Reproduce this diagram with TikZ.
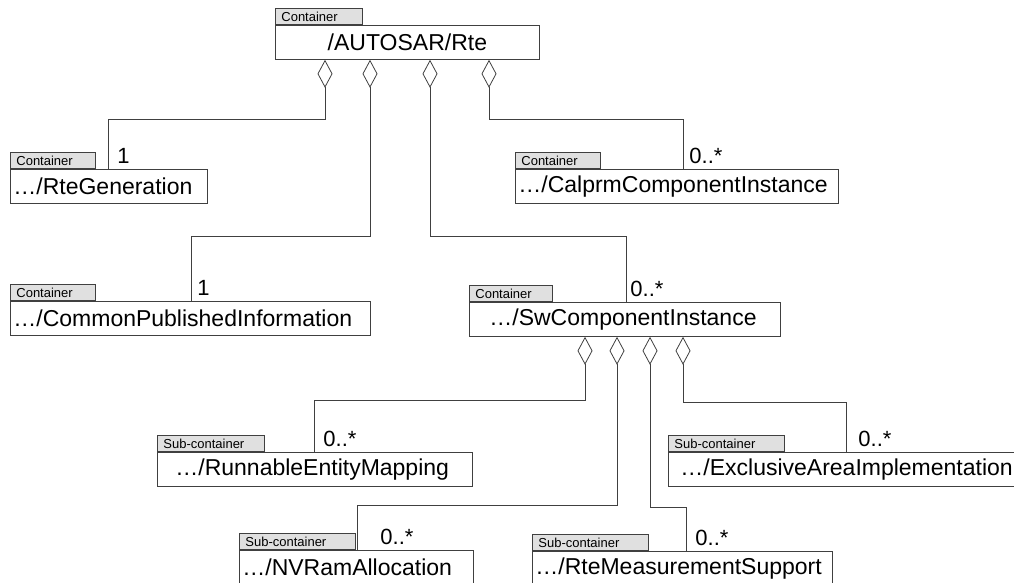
\documentclass[tikz,border=0pt]{standalone}
\usepackage{fontspec}
\setmainfont{Liberation Sans}
\usetikzlibrary{positioning}
\usetikzlibrary{arrows.meta}

\begin{document}
\begin{tikzpicture}
                [x=1pt, y=-1pt, line width=0.8pt,
                 box/.style={draw=black!75, fill=white, anchor=north west, minimum height=34pt,
                   inner xsep=3pt, inner ysep=0pt, text width=#1, align=left,
                   font=\fontsize{23}{27}\selectfont},
                 pad/.style={inner xsep=#1},
                 tab/.style={draw=black!75, fill=black!12, minimum height=16pt,
                   inner xsep=6pt, inner ysep=0pt, text width=#1, align=left,
                   font=\fontsize{13}{15}\selectfont},
                 agg/.style={draw=black!75, {Diamond[open, length=28pt, width=15pt]}-},
                 mult/.style={anchor=base west, inner sep=0pt, xshift=6pt, yshift=6pt,
                   font=\fontsize{22}{26}\selectfont}]
                \useasboundingbox (0,0) rectangle (1014,583);
                \node[box=252pt, pad=6pt, align=center] (rte) at (275,25) {/AUTOSAR/Rte};
                \node[tab=75pt, above right=0pt of rte.north west] (rtetab) {Container};
                \node[box=191pt] (gen) at (10,169) {\dots/RteGeneration};
                \node[tab=73pt, above right=0pt of gen.north west] (gentab) {Container};
                \node[box=317pt] (calprm) at (515,169) {\dots/CalprmComponentInstance};
                \node[tab=73pt, above right=0pt of calprm.north west] (calprmtab) {Container};
                \node[box=354pt] (common) at (10,301) {\dots/CommonPublishedInformation};
                \node[tab=73pt, above right=0pt of common.north west] (commontab) {Container};
                \node[box=271pt, pad=20pt] (swc) at (469,302) {\dots/SwComponentInstance};
                \node[tab=71pt, above right=0pt of swc.north west] (swctab) {Container};
                \node[box=279pt, pad=18pt] (runnable) at (157,452) {\dots/RunnableEntityMapping};
                \node[tab=95pt, above right=0pt of runnable.north west] (runnabletab) {Sub-container};
                \node[box=348pt, pad=12pt] (excl) at (668,452) {\dots/ExclusiveAreaImplementation};
                \node[tab=104pt, above right=0pt of excl.north west] (excltab) {Sub-container};
                \node[box=228pt] (nvram) at (239,550) {\dots/NVRamAllocation};
                \node[tab=104pt, above right=0pt of nvram.north west] (nvramtab) {Sub-container};
                \node[box=294pt] (meas) at (532,551) {\dots/RteMeasurementSupport};
                \node[tab=104pt, above right=0pt of meas.north west] (meastab) {Sub-container};
                \draw[agg] ([xshift=50pt]rte.south west) -- ++(0,60) -| ([xshift=98pt]gen.north west) node[mult, xshift=3pt] {1};
                \draw[agg] ([xshift=95pt]rte.south west) -- ++(0,177) -| ([xshift=181pt]common.north west) node[mult] {1};
                \draw[agg] ([xshift=155pt]rte.south west) -- ++(0,177) -| ([xshift=157pt]swc.north west) node[mult, xshift=-2pt] {0..*};
                \draw[agg] ([xshift=214pt]rte.south west) -- ++(0,60) -| ([xshift=168pt]calprm.north west) node[mult] {0..*};
                \draw[agg] ([xshift=116pt]swc.south west) -- ++(0,64) -| ([xshift=157pt]runnable.north west) node[mult, xshift=3pt] {0..*};
                \draw[agg] ([xshift=148pt]swc.south west) -- ++(0,169) -| ([xshift=118pt]nvram.north west) node[mult, xshift=17pt] {0..*};
                \draw[agg] ([xshift=181pt]swc.south west) -- ++(0,171) -| ([xshift=154pt]meas.north west) node[mult, xshift=3pt] {0..*};
                \draw[agg] ([xshift=214pt]swc.south west) -- ++(0,66) -| ([xshift=178pt]excl.north west) node[mult, xshift=6pt] {0..*};
            \end{tikzpicture}
\end{document}
